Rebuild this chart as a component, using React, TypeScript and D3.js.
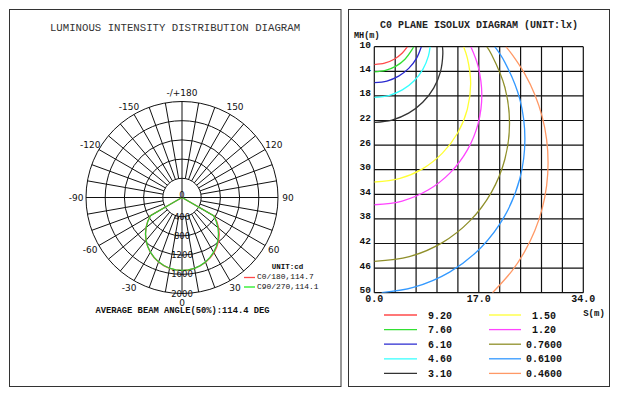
import React from 'react';
import * as d3 from 'd3';

// ---------- Polar (luminous intensity) data ----------
const polarGamma = [0,5,10,15,20,25,30,35,40,45,50,55,60,65,70,75,80,85,90,95,100,105,110,115,120,125,130,135,140,145,150,155,160,165,170,175,180];
const intensityC0 = [1522,1516,1500,1472,1434,1388,1330,1262,1184,1096,998,890,772,0,0,0,0,0,0,0,0,0,0,0,0,0,0,0,0,0,0,0,0,0,0,0,0];
const intensityC180 = [1522,1515,1498,1469,1429,1379,1318,1247,1166,1077,979,873,762,0,0,0,0,0,0,0,0,0,0,0,0,0,0,0,0,0,0,0,0,0,0,0,0];
const intensityC90 = [1520,1514,1497,1468,1428,1378,1316,1245,1164,1075,977,872,760,0,0,0,0,0,0,0,0,0,0,0,0,0,0,0,0,0,0,0,0,0,0,0,0];
const intensityC270 = [1520,1513,1496,1467,1427,1377,1315,1244,1163,1074,976,870,758,0,0,0,0,0,0,0,0,0,0,0,0,0,0,0,0,0,0,0,0,0,0,0,0];
const ringValues = [400, 800, 1200, 1600, 2000];
const ringLabels = ['400', '800', '1200', '1600', '2000'];
const angleLabelValues = [180, 150, 120, 90, 60, 30, 0, -30, -60, -90, -120, -150];
const angleLabelTexts = ['-/+180', '150', '120', '90', '60', '30', '0', '-30', '-60', '-90', '-120', '-150'];
const polarLegendNames = ['C0/180,114.7', 'C90/270,114.1'];

// ---------- Isolux data ----------
const sGrid = [0, 3.4, 6.8, 10.2, 13.6, 17, 20.4, 23.8, 27.2, 30.6, 34];
const sTickValues = [0, 17, 34];
const sTickLabels = ['0.0', '17.0', '34.0'];
const mhTicks = [10, 14, 18, 22, 26, 30, 34, 38, 42, 46, 50];
const isoluxLabels = ['9.20', '7.60', '6.10', '4.60', '3.10', '1.50', '1.20', '0.7600', '0.6100', '0.4600'];
const isoluxColors = ['#ff4a4a', '#33e033', '#2a2ad0', '#33ffff', '#333333', '#ffff33', '#ff44ff', '#8f8f2a', '#3399ff', '#ff9966'];
const curve920 = [[0,12.9],[1.67,12.68],[3.23,12.04],[4.56,11.01],[5.39,10]];
const curve760 = [[0,14.1],[1.82,13.86],[3.53,13.16],[4.99,12.03],[6.11,10.53],[6.4,10]];
const curve610 = [[0,15.85],[2.05,15.58],[3.96,14.79],[5.6,13.53],[6.86,11.89],[7.65,10]];
const curve460 = [[0,18.25],[2.36,17.94],[4.56,17.03],[6.45,15.58],[7.9,13.69],[8.81,11.49],[9.08,10]];
const curve310 = [[0,22.3],[2.89,21.92],[5.58,20.81],[7.88,19.03],[9.66,16.73],[10.77,14.04],[11.15,11.15],[11.09,10]];
const curve150 = [[0,32],[4.06,31.45],[7.84,29.86],[11.08,27.31],[13.58,24],[15.14,20.14],[15.68,16],[15.14,11.86],[14.53,10]];
const curve120 = [[0,35.7],[4.53,35.09],[8.75,33.31],[12.37,30.47],[15.15,26.78],[16.9,22.47],[17.49,17.85],[16.9,13.23],[15.71,10]];
const curve076 = [[0,44.9],[5.69,44.13],[11,41.89],[15.55,38.32],[19.05,33.68],[21.25,28.26],[22,22.45],[21.25,16.64],[19.05,11.23],[18.3,10]];
const curve061 = [[1.2,50],[6.34,49.15],[12.25,46.65],[17.33,42.68],[21.22,37.5],[23.67,31.47],[24.5,25],[23.67,18.53],[21.22,12.5],[19.6,10]];
const curve046 = [[19.23,50],[22.43,46.41],[24.48,43.28],[26.12,39.89],[27.31,36.32],[28.03,32.62],[28.27,28.85],[28.03,25.08],[27.31,21.38],[26.12,17.81],[24.48,14.43],[22.43,11.29],[21.4,10]];
const isoluxCurves = [curve920, curve760, curve610, curve460, curve310, curve150, curve120, curve076, curve061, curve046];

const MONO = "'Liberation Mono', 'DejaVu Sans Mono', monospace";
const SANS = "'DejaVu Sans', sans-serif";

export default function App() {
  // polar geometry
  const cx = 182, cy = 197.5;
  const rScale = d3.scaleLinear().domain([0, 2000]).range([0, 96]);
  const rMax = rScale(2000);
  const rIn = rScale(400);
  const toRad = (g: number) => (g * Math.PI) / 180;
  const radial = d3.lineRadial<[number, number]>()
    .angle(d => Math.PI - toRad(d[0]))
    .radius(d => rScale(d[1]));
  const polarPath = (right: number[], left: number[]) => {
    const pts: [number, number][] = [];
    for (let i = polarGamma.length - 1; i >= 0; i--) pts.push([-polarGamma[i], left[i]]);
    for (let i = 1; i < polarGamma.length; i++) pts.push([polarGamma[i], right[i]]);
    return radial(pts) + 'Z';
  };
  const spokes: number[] = [];
  for (let g = 10; g < 360; g += 10) if (g % 90 !== 0) spokes.push(g);

  // isolux geometry
  const xS = d3.scaleLinear().domain([0, 34]).range([374.3, 583.3]);
  const yM = d3.scaleLinear().domain([10, 50]).range([46.7, 292.7]);
  const line = d3.line<number[]>().x(d => xS(d[0])).y(d => yM(d[1])).curve(d3.curveCatmullRom.alpha(0.5));

  const legRowY = [315, 329.6, 344.2, 358.8, 373.4];

  return (
    <svg width={623} height={396} style={{ position: 'absolute', left: 0, top: 0, background: '#fff' }}>
      <rect x={0} y={0} width={623} height={396} fill="#fff" />
      {/* panels */}
      <rect x={9.5} y={9.5} width={331.5} height={377} fill="none" stroke="#333" strokeWidth={1} />
      <rect x={348.5} y={9.5} width={261} height={377} fill="none" stroke="#333" strokeWidth={1} />

      {/* ---------- left panel ---------- */}
      <text x={175} y={31} textAnchor="middle" fontFamily={MONO} fontSize={10.7} fill="#333">LUMINOUS INTENSITY DISTRIBUTION DIAGRAM</text>
      <g transform={`translate(${cx},${cy})`}>
        {ringValues.map(v => (
          <circle key={v} r={rScale(v)} fill="none" stroke="#111" strokeWidth={1} />
        ))}
        {spokes.map(g => (
          <line key={g}
            x1={rIn * Math.sin(toRad(g))} y1={rIn * Math.cos(toRad(g))}
            x2={rMax * Math.sin(toRad(g))} y2={rMax * Math.cos(toRad(g))}
            stroke="#111" strokeWidth={1} />
        ))}
        <line x1={-rMax} y1={0} x2={rMax} y2={0} stroke="#111" strokeWidth={1} />
        <line x1={0} y1={-rMax} x2={0} y2={rMax} stroke="#111" strokeWidth={1} />
        {angleLabelValues.map((g, i) => (
          <text key={g} x={106 * Math.sin(toRad(g))} y={105 * Math.cos(toRad(g))}
            textAnchor="middle" dominantBaseline="central" fontFamily={SANS} fontSize={9} fill="#111">{angleLabelTexts[i]}</text>
        ))}
        <path d={polarPath(intensityC0, intensityC180)} fill="none" stroke="#ff4a4a" strokeWidth={1.3} />
        <path d={polarPath(intensityC90, intensityC270)} fill="none" stroke="#33cc33" strokeWidth={1.3} />
        <text x={0} y={-3} textAnchor="middle" dominantBaseline="central" fontFamily={SANS} fontSize={8.5} fill="#111">0</text>
        {ringValues.map((v, i) => (
          <text key={v} x={0} y={rScale(v)} textAnchor="middle" dominantBaseline="central" fontFamily={SANS} fontSize={8.5} fill="#111">{ringLabels[i]}</text>
        ))}
      </g>
      <text x={287.5} y={268.5} textAnchor="middle" fontFamily={MONO} fontSize={7.5} fontWeight="bold" fill="#111">UNIT:cd</text>
      <line x1={244} y1={277.5} x2={255} y2={277.5} stroke="#ff4a4a" strokeWidth={1.3} />
      <line x1={244} y1={287} x2={255} y2={287} stroke="#22ee22" strokeWidth={1.3} />
      <text x={257} y={279} fontFamily={MONO} fontSize={7.9} fill="#111">{polarLegendNames[0]}</text>
      <text x={257} y={288.5} fontFamily={MONO} fontSize={7.9} fill="#111">{polarLegendNames[1]}</text>
      <text x={182.5} y={313} textAnchor="middle" fontFamily={MONO} fontSize={8.8} fontWeight="bold" fill="#111">AVERAGE BEAM ANGLE(50%):114.4 DEG</text>

      {/* ---------- right panel ---------- */}
      <text x={479} y={28} textAnchor="middle" fontFamily={MONO} fontSize={10} fontWeight="bold" fill="#222">C0 PLANE ISOLUX DIAGRAM (UNIT:lx)</text>
      <text x={354} y={37.5} fontFamily={MONO} fontSize={8.5} fontWeight="bold" fill="#111">MH(m)</text>
      {sGrid.map(s => (
        <line key={'v' + s} x1={xS(s)} x2={xS(s)} y1={yM(10)} y2={yM(50)} stroke="#111" strokeWidth={1.2} />
      ))}
      {mhTicks.map(m => (
        <line key={'h' + m} x1={xS(0)} x2={xS(34)} y1={yM(m)} y2={yM(m)} stroke="#111" strokeWidth={1.2} />
      ))}
      {mhTicks.map(m => (
        <text key={'t' + m} x={371} y={yM(m) + (m === 10 ? 1.5 : 0.5)} textAnchor="end" fontFamily={MONO} fontSize={9.5} fontWeight="bold" fill="#111">{m}</text>
      ))}
      {sTickValues.map((s, i) => (
        <text key={'s' + s} x={xS(s)} y={302} textAnchor="middle" fontFamily={MONO} fontSize={10} fontWeight="bold" fill="#111">{sTickLabels[i]}</text>
      ))}
      <text x={594} y={316} textAnchor="middle" fontFamily={MONO} fontSize={9} fontWeight="bold" fill="#111">S(m)</text>
      <defs>
        <clipPath id="gridClip">
          <rect x={xS(0)} y={yM(10)} width={xS(34) - xS(0)} height={yM(50) - yM(10)} />
        </clipPath>
      </defs>
      <g clipPath="url(#gridClip)">
        {isoluxCurves.map((c, i) => (
          <path key={i} d={line(c) || ''} fill="none" stroke={isoluxColors[i]} strokeWidth={1.3} />
        ))}
      </g>
      {isoluxLabels.map((lab, i) => {
        const col = i < 5 ? 0 : 1;
        const row = i % 5;
        const x1 = col === 0 ? 384 : 489;
        const x2 = col === 0 ? 417 : 521;
        const tx = col === 0 ? 440 : 544;
        return (
          <g key={lab}>
            <line x1={x1} x2={x2} y1={legRowY[row]} y2={legRowY[row]} stroke={isoluxColors[i]} strokeWidth={1.3} />
            <text x={tx} y={legRowY[row] + 3.5} textAnchor="middle" fontFamily={MONO} fontSize={10} fontWeight="bold" fill="#111">{lab}</text>
          </g>
        );
      })}
    </svg>
  );
}
